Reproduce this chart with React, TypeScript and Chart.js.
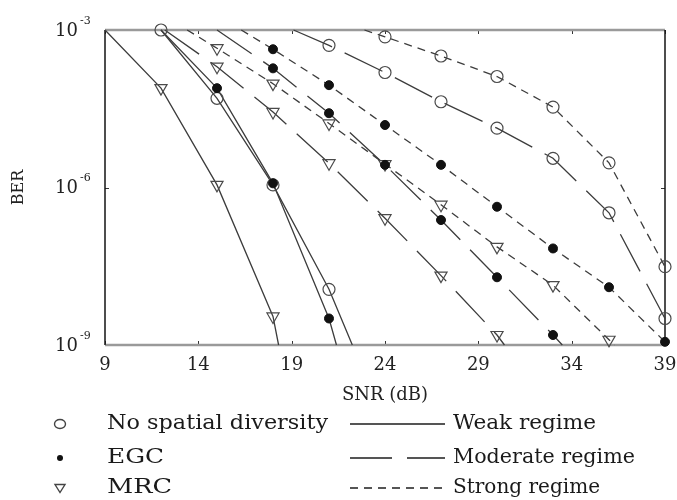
import { useEffect, useRef } from "react";
import { Chart, registerables } from "chart.js";

Chart.register(...registerables);

// ---------- data ----------
const xTicks = [9, 14, 19, 24, 29, 34, 39];
const yTicks = [1e-3, 1e-6, 1e-9];
const yTickExp = ["-3", "-6", "-9"];

// No spatial diversity
const ndWeakSNR = [12, 15, 18, 21, 22.25];
const ndWeakBER = [1e-3, 5.0e-5, 1.12e-6, 1.15e-8, 1e-9];
const ndWeakMarks = [12, 15, 18, 21];
const ndModSNR = [19.1, 21, 24, 27, 30, 33, 36, 39];
const ndModBER = [1e-3, 5.1e-4, 1.55e-4, 4.3e-5, 1.35e-5, 3.6e-6, 3.3e-7, 3.2e-9];
const ndModMarks = [21, 24, 27, 30, 33, 36, 39];
const ndStrSNR = [22.9, 24, 27, 30, 33, 36, 39];
const ndStrBER = [1e-3, 7.4e-4, 3.2e-4, 1.3e-4, 3.4e-5, 2.95e-6, 3.1e-8];
const ndStrMarks = [24, 27, 30, 33, 36, 39];

// EGC
const egcWeakSNR = [12, 15, 18, 21, 21.4];
const egcWeakBER = [1e-3, 7.8e-5, 1.2e-6, 3.2e-9, 1e-9];
const egcWeakMarks = [15, 18, 21];
const egcModSNR = [15, 18, 21, 24, 27, 30, 33, 33.5];
const egcModBER = [1e-3, 1.86e-4, 2.6e-5, 2.7e-6, 2.4e-7, 1.95e-8, 1.55e-9, 1e-9];
const egcModMarks = [18, 21, 24, 27, 30, 33];
const egcStrSNR = [16.3, 18, 21, 24, 27, 30, 33, 36, 39];
const egcStrBER = [1e-3, 4.3e-4, 8.9e-5, 1.55e-5, 2.7e-6, 4.3e-7, 6.9e-8, 1.26e-8, 1.15e-9];
const egcStrMarks = [18, 21, 24, 27, 30, 33, 36, 39];

// MRC
const mrcWeakSNR = [9, 12, 15, 18, 18.3];
const mrcWeakBER = [1e-3, 7.8e-5, 1.12e-6, 3.5e-9, 1e-9];
const mrcWeakMarks = [12, 15, 18];
const mrcModSNR = [12.2, 15, 18, 21, 24, 27, 30, 30.4];
const mrcModBER = [1e-3, 2.0e-4, 2.75e-5, 2.9e-6, 2.6e-7, 2.1e-8, 1.55e-9, 1e-9];
const mrcModMarks = [15, 18, 21, 24, 27, 30];
const mrcStrSNR = [13.4, 15, 18, 21, 24, 27, 30, 33, 36, 36.3];
const mrcStrBER = [1e-3, 4.5e-4, 9.5e-5, 1.66e-5, 2.8e-6, 4.7e-7, 7.4e-8, 1.38e-8, 1.26e-9, 1e-9];
const mrcStrMarks = [15, 18, 21, 24, 27, 30, 33, 36];

const schemeLabels = ["No spatial diversity", "EGC", "MRC"];
const regimeLabels = ["Weak regime", "Moderate regime", "Strong regime"];

// ---------- styles / layout ----------
const FONT = "'DejaVu Serif', 'Liberation Serif', serif";
const LINE_COLOR = "#3c3c3c";
const DASHES: Record<string, number[]> = { weak: [], moderate: [42, 14], strong: [8, 6] };
const LEGEND_ROWS = [424, 458, 488];
const LEGEND_MARKER_X = 60;
const LEFT_TEXT_X = 107;
const LEFT_TEXT_END = [328, 164, 172];
const RIGHT_TEXT_X = 453;
const RIGHT_TEXT_END = [596, 635, 600];

type Scheme = "nd" | "egc" | "mrc";
type Regime = "weak" | "moderate" | "strong";

const curves: { snr: number[]; ber: number[]; marks: number[]; scheme: Scheme; regime: Regime }[] = [
  { snr: ndWeakSNR, ber: ndWeakBER, marks: ndWeakMarks, scheme: "nd", regime: "weak" },
  { snr: ndModSNR, ber: ndModBER, marks: ndModMarks, scheme: "nd", regime: "moderate" },
  { snr: ndStrSNR, ber: ndStrBER, marks: ndStrMarks, scheme: "nd", regime: "strong" },
  { snr: egcWeakSNR, ber: egcWeakBER, marks: egcWeakMarks, scheme: "egc", regime: "weak" },
  { snr: egcModSNR, ber: egcModBER, marks: egcModMarks, scheme: "egc", regime: "moderate" },
  { snr: egcStrSNR, ber: egcStrBER, marks: egcStrMarks, scheme: "egc", regime: "strong" },
  { snr: mrcWeakSNR, ber: mrcWeakBER, marks: mrcWeakMarks, scheme: "mrc", regime: "weak" },
  { snr: mrcModSNR, ber: mrcModBER, marks: mrcModMarks, scheme: "mrc", regime: "moderate" },
  { snr: mrcStrSNR, ber: mrcStrBER, marks: mrcStrMarks, scheme: "mrc", regime: "strong" },
];

function markerStyle(s: Scheme) {
  if (s === "nd")
    return { pointStyle: "circle", pointRadius: 6, rotation: 0, borderColor: "#4a4a4a", backgroundColor: "rgba(0,0,0,0)", borderWidth: 1.2 };
  if (s === "egc")
    return { pointStyle: "circle", pointRadius: 4.5, rotation: 0, borderColor: "#111", backgroundColor: "#111", borderWidth: 1 };
  return { pointStyle: "triangle", pointRadius: 7, rotation: 180, borderColor: "#4a4a4a", backgroundColor: "rgba(0,0,0,0)", borderWidth: 1.2 };
}

function fitText(ctx: CanvasRenderingContext2D, text: string, x: number, y: number, endX: number) {
  const w = ctx.measureText(text).width;
  const sx = (endX - x) / w;
  ctx.save();
  ctx.translate(x, y);
  ctx.scale(sx, 1);
  ctx.fillText(text, 0, 0);
  ctx.restore();
}

function drawLegendMarker(ctx: CanvasRenderingContext2D, s: Scheme, x: number, y: number) {
  ctx.save();
  ctx.lineWidth = 1.4;
  ctx.strokeStyle = "#444";
  ctx.fillStyle = "#111";
  ctx.beginPath();
  if (s === "nd") {
    ctx.ellipse(x, y, 5.5, 4.5, 0, 0, Math.PI * 2);
    ctx.stroke();
  } else if (s === "egc") {
    ctx.arc(x, y, 3, 0, Math.PI * 2);
    ctx.fill();
  } else {
    ctx.moveTo(x - 5, y - 3.5);
    ctx.lineTo(x + 5, y - 3.5);
    ctx.lineTo(x, y + 4.5);
    ctx.closePath();
    ctx.stroke();
  }
  ctx.restore();
}

const decorPlugin = {
  id: "decor",
  beforeDatasetsDraw(chart: any) {
    const { ctx, chartArea: a, scales } = chart;
    const xs = scales.x;
    const ys = scales.y;
    ctx.save();
    ctx.strokeStyle = "#333";
    ctx.lineWidth = 1;
    ctx.beginPath();
    xTicks.forEach((t) => {
      const px = Math.round(xs.getPixelForValue(t)) + 0.5;
      ctx.moveTo(px, a.bottom);
      ctx.lineTo(px, a.bottom - 4);
      ctx.moveTo(px, a.top);
      ctx.lineTo(px, a.top + 4);
    });
    yTicks.forEach((t) => {
      const py = Math.round(ys.getPixelForValue(t)) + 0.5;
      ctx.moveTo(a.left, py);
      ctx.lineTo(a.left + 4, py);
      ctx.moveTo(a.right, py);
      ctx.lineTo(a.right - 4, py);
    });
    ctx.stroke();
    ctx.strokeStyle = "#9a9a9a";
    ctx.lineWidth = 2.5;
    ctx.beginPath();
    ctx.moveTo(a.left, a.top);
    ctx.lineTo(a.right, a.top);
    ctx.moveTo(a.left, a.bottom);
    ctx.lineTo(a.right, a.bottom);
    ctx.stroke();
    ctx.strokeStyle = "#151515";
    ctx.lineWidth = 1.5;
    ctx.beginPath();
    ctx.moveTo(a.left, a.top);
    ctx.lineTo(a.left, a.bottom);
    ctx.moveTo(a.right, a.top);
    ctx.lineTo(a.right, a.bottom);
    ctx.stroke();
    ctx.restore();
  },
  afterDraw(chart: any) {
    const { ctx, chartArea: a, scales } = chart;
    const xs = scales.x;
    const ys = scales.y;
    ctx.save();
    ctx.fillStyle = "#222";
    ctx.font = `18px ${FONT}`;
    ctx.textAlign = "center";
    ctx.textBaseline = "middle";
    xTicks.forEach((t) => ctx.fillText(String(t), xs.getPixelForValue(t), a.bottom + 20));
    yTicks.forEach((t, i) => {
      const py = ys.getPixelForValue(t);
      ctx.font = `18px ${FONT}`;
      ctx.textAlign = "right";
      ctx.textBaseline = "middle";
      ctx.fillText("10", a.left - 27, py + 1);
      ctx.font = `11px ${FONT}`;
      ctx.textAlign = "left";
      ctx.fillText(yTickExp[i], a.left - 25, py - 9);
    });
    ctx.font = `18px ${FONT}`;
    ctx.textAlign = "center";
    ctx.fillText("SNR (dB)", (a.left + a.right) / 2, a.bottom + 50);
    ctx.save();
    ctx.translate(19, (a.top + a.bottom) / 2);
    ctx.rotate(-Math.PI / 2);
    ctx.font = `16px ${FONT}`;
    ctx.fillText("BER", 0, 0);
    ctx.restore();

    const schemes: Scheme[] = ["nd", "egc", "mrc"];
    const regimes: Regime[] = ["weak", "moderate", "strong"];
    ctx.font = `20px ${FONT}`;
    ctx.textAlign = "left";
    ctx.textBaseline = "middle";
    schemes.forEach((s, i) => {
      drawLegendMarker(ctx, s, LEGEND_MARKER_X, LEGEND_ROWS[i]);
      ctx.fillStyle = "#1a1a1a";
      fitText(ctx, schemeLabels[i], LEFT_TEXT_X, LEGEND_ROWS[i], LEFT_TEXT_END[i]);
    });
    regimes.forEach((r, i) => {
      ctx.save();
      ctx.strokeStyle = "#555";
      ctx.lineWidth = 2;
      ctx.setLineDash(r === "weak" ? [] : r === "moderate" ? [42, 15] : [8, 6]);
      ctx.beginPath();
      ctx.moveTo(350, LEGEND_ROWS[i]);
      ctx.lineTo(445, LEGEND_ROWS[i]);
      ctx.stroke();
      ctx.restore();
      ctx.fillStyle = "#1a1a1a";
      fitText(ctx, regimeLabels[i], RIGHT_TEXT_X, LEGEND_ROWS[i], RIGHT_TEXT_END[i]);
    });
    ctx.restore();
  },
};

export default function App() {
  const canvasRef = useRef<HTMLCanvasElement | null>(null);

  useEffect(() => {
    if (!canvasRef.current) return;
    const datasets: any[] = [];
    curves.forEach((c) => {
      const pts = c.snr.map((x, i) => ({ x, y: c.ber[i] }));
      datasets.push({
        data: pts,
        showLine: true,
        pointRadius: 0,
        borderColor: LINE_COLOR,
        borderWidth: 1.3,
        borderDash: DASHES[c.regime],
        fill: false,
        clip: false,
        order: 2,
      });
      datasets.push({
        data: pts.filter((p) => c.marks.includes(p.x)),
        showLine: false,
        ...markerStyle(c.scheme),
        clip: false,
        order: c.scheme === "egc" ? 0 : 1,
      });
    });

    const chart = new Chart(canvasRef.current, {
      type: "scatter",
      data: { datasets },
      options: {
        animation: false,
        responsive: false,
        devicePixelRatio: 1,
        layout: { padding: { left: 105, right: 12, top: 30, bottom: 155 } },
        scales: {
          x: { type: "linear", min: 9, max: 39, display: false },
          y: { type: "logarithmic", min: 1e-9, max: 1e-3, display: false },
        },
        plugins: { legend: { display: false }, tooltip: { enabled: false } },
        events: [],
      },
      plugins: [decorPlugin],
    });
    return () => chart.destroy();
  }, []);

  return (
    <div style={{ position: "fixed", left: 0, top: 0, width: 677, height: 500, background: "#fff" }}>
      <canvas ref={canvasRef} width={677} height={500} />
    </div>
  );
}
